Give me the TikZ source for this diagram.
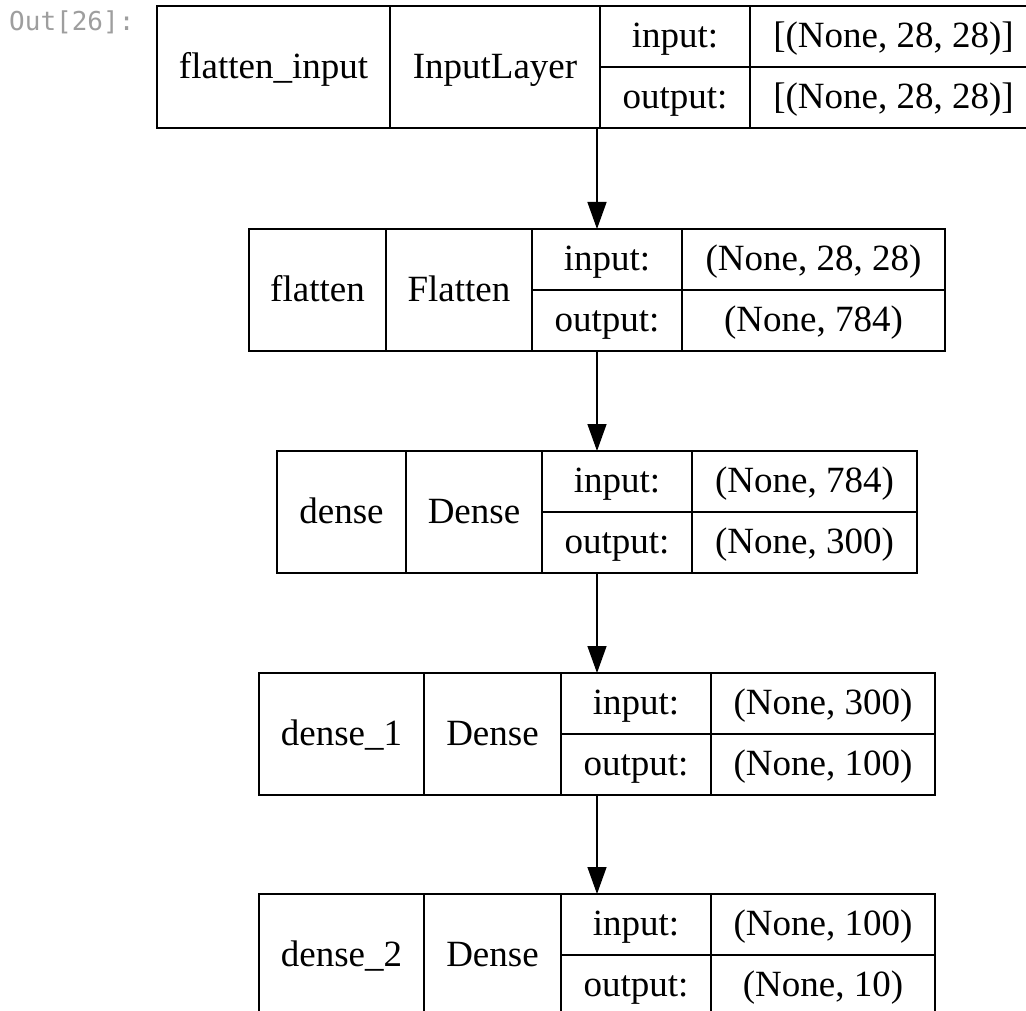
\documentclass[tikz,border=0pt]{standalone}
\usepackage{fontspec}
\setmainfont{Liberation Serif}
\newfontfamily\promptfont{DejaVu Sans Mono}
\usetikzlibrary{arrows.meta}
\definecolor{promptgray}{HTML}{9E9E9E}
\begin{document}
\begin{tikzpicture}[x=1pt,y=-1pt,
  layerbox/.style={draw, line width=1.4pt, rectangle, inner sep=0pt, outer sep=0pt, anchor=north west},
  cell/.style={line width=1.4pt},
  lbl/.style={anchor=base, inner sep=0pt, font=\fontsize{37}{44}\selectfont},
  flow/.style={line width=1.4pt, -{Triangle[length=27pt,width=19pt]}},
  prompt/.style={anchor=base west, inner sep=0pt, text=promptgray, font=\promptfont\fontsize{26}{30}\selectfont}]
\useasboundingbox (0,0) rectangle (1026,1011);
\clip (0,0) rectangle (1026,1011);
\fill[white] (0,0) rectangle (1026,1011);
\node[prompt] (prompt) at (9,31) {Out[26]:};
\foreach \id/\xa/\xb/\xc/\xd/\xe/\yt/\nm/\cl/\ish/\osh in {
  b1/157/390/600/750/1037/6/{flatten\_input}/{InputLayer}/{[(None, 28, 28)]}/{[(None, 28, 28)]},
  b2/249/386/532/682/945/229/{flatten}/{Flatten}/{(None, 28, 28)}/{(None, 784)},
  b3/277/406/542/692/917/451/{dense}/{Dense}/{(None, 784)}/{(None, 300)},
  b4/259/424/561/711/935/673/{dense\_1}/{Dense}/{(None, 300)}/{(None, 100)},
  b5/259/424/561/711/935/894/{dense\_2}/{Dense}/{(None, 100)}/{(None, 10)}
}{
  \node[layerbox, minimum width={(\xe-\xa)*1pt}, minimum height=122pt] (\id) at (\xa,\yt) {};
  \draw[cell] (\xb,\yt) -- (\xb,{\yt+122});
  \draw[cell] (\xc,\yt) -- (\xc,{\yt+122});
  \draw[cell] (\xd,\yt) -- (\xd,{\yt+122});
  \draw[cell] (\xc,{\yt+61}) -- (\xe,{\yt+61});
  \node[lbl] (\id-name) at ({(\xa+\xb)/2},{\yt+72.5}) {\nm};
  \node[lbl] (\id-class) at ({(\xb+\xc)/2},{\yt+72.5}) {\cl};
  \node[lbl] (\id-inkey) at ({(\xc+\xd)/2},{\yt+41.5}) {input:};
  \node[lbl] (\id-outkey) at ({(\xc+\xd)/2},{\yt+102.5}) {output:};
  \node[lbl] (\id-inval) at ({(\xd+\xe)/2},{\yt+41.5}) {\ish};
  \node[lbl] (\id-outval) at ({(\xd+\xe)/2},{\yt+102.5}) {\osh};
}
\draw[flow] (b1.south) -- (b1.south |- b2.north);
\draw[flow] (b2.south) -- (b2.south |- b3.north);
\draw[flow] (b3.south) -- (b3.south |- b4.north);
\draw[flow] (b4.south) -- (b4.south |- b5.north);
\end{tikzpicture}
\end{document}
